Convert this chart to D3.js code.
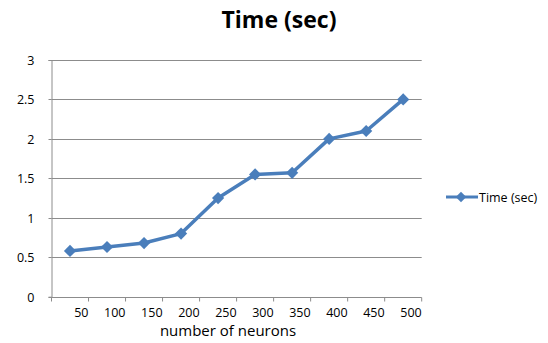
<!DOCTYPE html>
<html><head><meta charset="utf-8">
<script src="https://cdn.jsdelivr.net/npm/d3@7"></script>
<style>body{margin:0;background:#fff}svg{display:block}text{font-family:"Open Sans",sans-serif}</style>
</head><body>
<div id="chart"></div>
<script>
const categories = ["50","100","150","200","250","300","350","400","450","500"];
const values = [0.58, 0.63, 0.68, 0.80, 1.25, 1.55, 1.57, 2.00, 2.10, 2.50];
const yTicks = [0, 0.5, 1, 1.5, 2, 2.5, 3];
const seriesName = "Time (sec)";
const chartTitle = "Time (sec)";
const xTitle = "number of neurons";

(function () {
const W = 548, H = 343;
const svg = d3.select("#chart").append("svg").attr("width", W).attr("height", H);
const pl = 51.5, pr = 421.7, pt = 60, pb = 296.7;
const x = d3.scaleBand().domain(categories).range([pl, pr]);
const y = d3.scaleLinear().domain([0, 3]).range([pb, pt]);
const grid = "#8c8c8c", blue = "#4a7ebb";

// gridlines
svg.append("g").selectAll("line").data(yTicks.filter(d => d > 0)).join("line")
  .attr("x1", pl).attr("x2", pr).attr("y1", d => Math.round(y(d)) + 0.5).attr("y2", d => Math.round(y(d)) + 0.5)
  .attr("stroke", grid).attr("stroke-width", 1);

// y axis
const yAxis = svg.append("g").attr("transform", `translate(${pl},0)`)
  .call(d3.axisLeft(y).tickValues(yTicks).tickSize(3).tickPadding(14).tickFormat(d3.format("")));
yAxis.select(".domain").attr("stroke", grid);
yAxis.selectAll(".tick line").attr("stroke", grid);
yAxis.selectAll("text").attr("font-size", 12.5).attr("fill", "#000").attr("font-family", "Open Sans");
yAxis.selectAll(".tick").attr("transform", d => `translate(0,${Math.round(y(d)) + 0.5})`);

// x axis
const xg = svg.append("g").attr("transform", `translate(0,${Math.round(pb) + 0.5})`);
xg.append("line").attr("x1", pl).attr("x2", pr).attr("stroke", grid);
const edges = [pl].concat(categories.map(c => x(c) + x.bandwidth()));
xg.selectAll("line.t").data(edges).join("line").attr("class", "t")
  .attr("x1", d => d).attr("x2", d => d).attr("y1", 0).attr("y2", 4).attr("stroke", grid);
xg.selectAll("text").data(categories).join("text")
  .attr("x", c => x(c) + x.bandwidth()).attr("y", 19)
  .attr("text-anchor", "end").attr("font-size", 12.5).attr("fill", "#000").text(c => c);

// line
const line = d3.line().x((d, i) => x(categories[i]) + x.bandwidth() / 2).y(d => y(d));
svg.append("path").datum(values).attr("d", line).attr("fill", "none")
  .attr("stroke", blue).attr("stroke-width", 3.5).attr("stroke-linejoin", "round");
const diamond = d3.symbol().type(d3.symbolDiamond2).size(95);
svg.append("g").selectAll("path").data(values).join("path")
  .attr("transform", (d, i) => `translate(${x(categories[i]) + x.bandwidth() / 2},${y(d)})`)
  .attr("d", diamond).attr("fill", blue);

// titles
svg.append("text").attr("x", 279).attr("y", 28).attr("text-anchor", "middle")
  .attr("font-size", 23).attr("font-weight", "bold").attr("fill", "#000").text(chartTitle);
svg.append("text").attr("x", 228).attr("y", 336).attr("text-anchor", "middle")
  .attr("font-size", 15).attr("fill", "#000").text(xTitle);

// legend
const lg = svg.append("g");
lg.append("line").attr("x1", 446).attr("x2", 478).attr("y1", 197).attr("y2", 197)
  .attr("stroke", blue).attr("stroke-width", 3);
lg.append("path").attr("transform", "translate(461,197)").attr("d", d3.symbol().type(d3.symbolDiamond2).size(70)).attr("fill", blue);
lg.append("text").attr("x", 479).attr("y", 201.5).attr("font-size", 12.5).attr("fill", "#000").text(seriesName);
})();
</script>
</body></html>
